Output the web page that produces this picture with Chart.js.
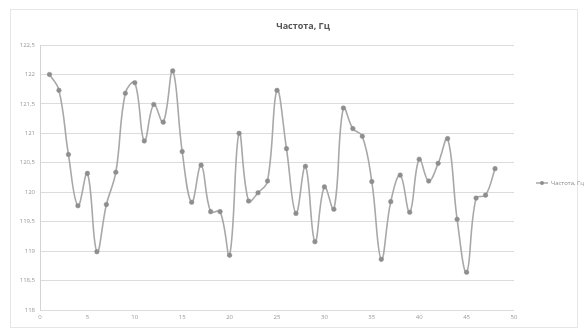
<!DOCTYPE html>
<html lang="ru">
<head>
  <meta charset="UTF-8">
  <title>Частота, Гц</title>
  <script src="https://cdn.jsdelivr.net/npm/chart.js"></script>
  <style>
    html, body { margin: 0; padding: 0; background: #fff; }
    #wrap { width: 588px; height: 330px; }
  </style>
</head>
<body>
  <div id="wrap"><canvas id="freq-chart" width="588" height="330"></canvas></div>
  <script>
    const seriesName = 'Частота, Гц';
    const xValues = [1, 2, 3, 4, 5, 6, 7, 8, 9, 10, 11, 12, 13, 14, 15, 16,
      17, 18, 19, 20, 21, 22, 23, 24, 25, 26, 27, 28, 29, 30, 31, 32,
      33, 34, 35, 36, 37, 38, 39, 40, 41, 42, 43, 44, 45, 46, 47, 48];
    const freqValues = [122.0, 121.73, 120.64, 119.77, 120.32, 118.99, 119.79, 120.34,
      121.68, 121.86, 120.87, 121.49, 121.19, 122.06, 120.69, 119.83,
      120.46, 119.67, 119.67, 118.93, 121.0, 119.85, 119.99, 120.19,
      121.73, 120.74, 119.64, 120.44, 119.16, 120.09, 119.71, 121.43,
      121.08, 120.95, 120.18, 118.86, 119.84, 120.29, 119.66, 120.56,
      120.19, 120.49, 120.91, 119.54, 118.64, 119.9, 119.95, 120.4];
    const xTicks = [0, 5, 10, 15, 20, 25, 30, 35, 40, 45, 50];
    const yTicks = [118, 118.5, 119, 119.5, 120, 120.5, 121, 121.5, 122, 122.5];

    const lineColor = '#a8a8a8';
    const markColor = '#8e8e8e';

    // frame, title (centred like the original, not over the plot) and legend
    const extras = {
      id: 'extras',
      beforeDraw(chart) {
        const c = chart.ctx;
        c.save();
        c.fillStyle = '#fff';
        c.fillRect(0, 0, chart.width, chart.height);
        c.strokeStyle = '#e6e6e6';
        c.lineWidth = 1;
        c.strokeRect(10.5, 9.5, 567, 318);
        c.restore();
      },
      afterDraw(chart) {
        const c = chart.ctx;
        c.save();
        c.fillStyle = '#555';
        c.font = 'bold 9px "Open Sans", sans-serif';
        c.textAlign = 'center';
        c.textBaseline = 'middle';
        c.fillText(seriesName, 303, 26);

        const y = 183;
        c.strokeStyle = lineColor;
        c.lineWidth = 1.5;
        c.beginPath();
        c.moveTo(536, y);
        c.lineTo(548, y);
        c.stroke();
        c.fillStyle = markColor;
        c.beginPath();
        c.arc(542, y, 2, 0, Math.PI * 2);
        c.fill();
        c.fillStyle = '#8a8a8a';
        c.font = '6px "Open Sans", sans-serif';
        c.textAlign = 'left';
        c.fillText(seriesName, 551, y);
        c.restore();
      }
    };

    const fmt = v => String(v).replace('.', ',');

    new Chart(document.getElementById('freq-chart'), {
      type: 'scatter',
      data: {
        datasets: [{
          label: seriesName,
          data: xValues.map((x, i) => ({ x, y: freqValues[i] })),
          showLine: true,
          tension: 0.4,
          borderColor: lineColor,
          borderWidth: 1.6,
          pointRadius: 2.3,
          pointBackgroundColor: markColor,
          pointBorderColor: markColor,
          pointBorderWidth: 0.5
        }]
      },
      options: {
        responsive: false,
        animation: false,
        layout: { padding: { left: 5, right: 74, top: 45, bottom: 5 } },
        plugins: {
          legend: { display: false },
          tooltip: { enabled: false },
          title: { display: false }
        },
        scales: {
          x: {
            type: 'linear',
            min: 0,
            max: 50,
            afterBuildTicks: s => { s.ticks = xTicks.map(v => ({ value: v })); },
            afterFit: s => { s.height = 15; },
            grid: { display: false, drawTicks: false },
            border: { display: false },
            ticks: {
              padding: 4,
              color: '#999',
              font: { family: '"Open Sans", sans-serif', size: 6 },
              maxRotation: 0,
              callback: fmt
            }
          },
          y: {
            min: 118,
            max: 122.5,
            afterBuildTicks: s => { s.ticks = yTicks.map(v => ({ value: v })); },
            afterFit: s => { s.width = 35; },
            grid: { color: '#dcdcdc', lineWidth: 1, drawTicks: false },
            border: { display: true, color: '#d4d4d4' },
            ticks: {
              padding: 5,
              color: '#999',
              font: { family: '"Open Sans", sans-serif', size: 6 },
              callback: fmt
            }
          }
        }
      },
      plugins: [extras]
    });
  </script>
</body>
</html>
